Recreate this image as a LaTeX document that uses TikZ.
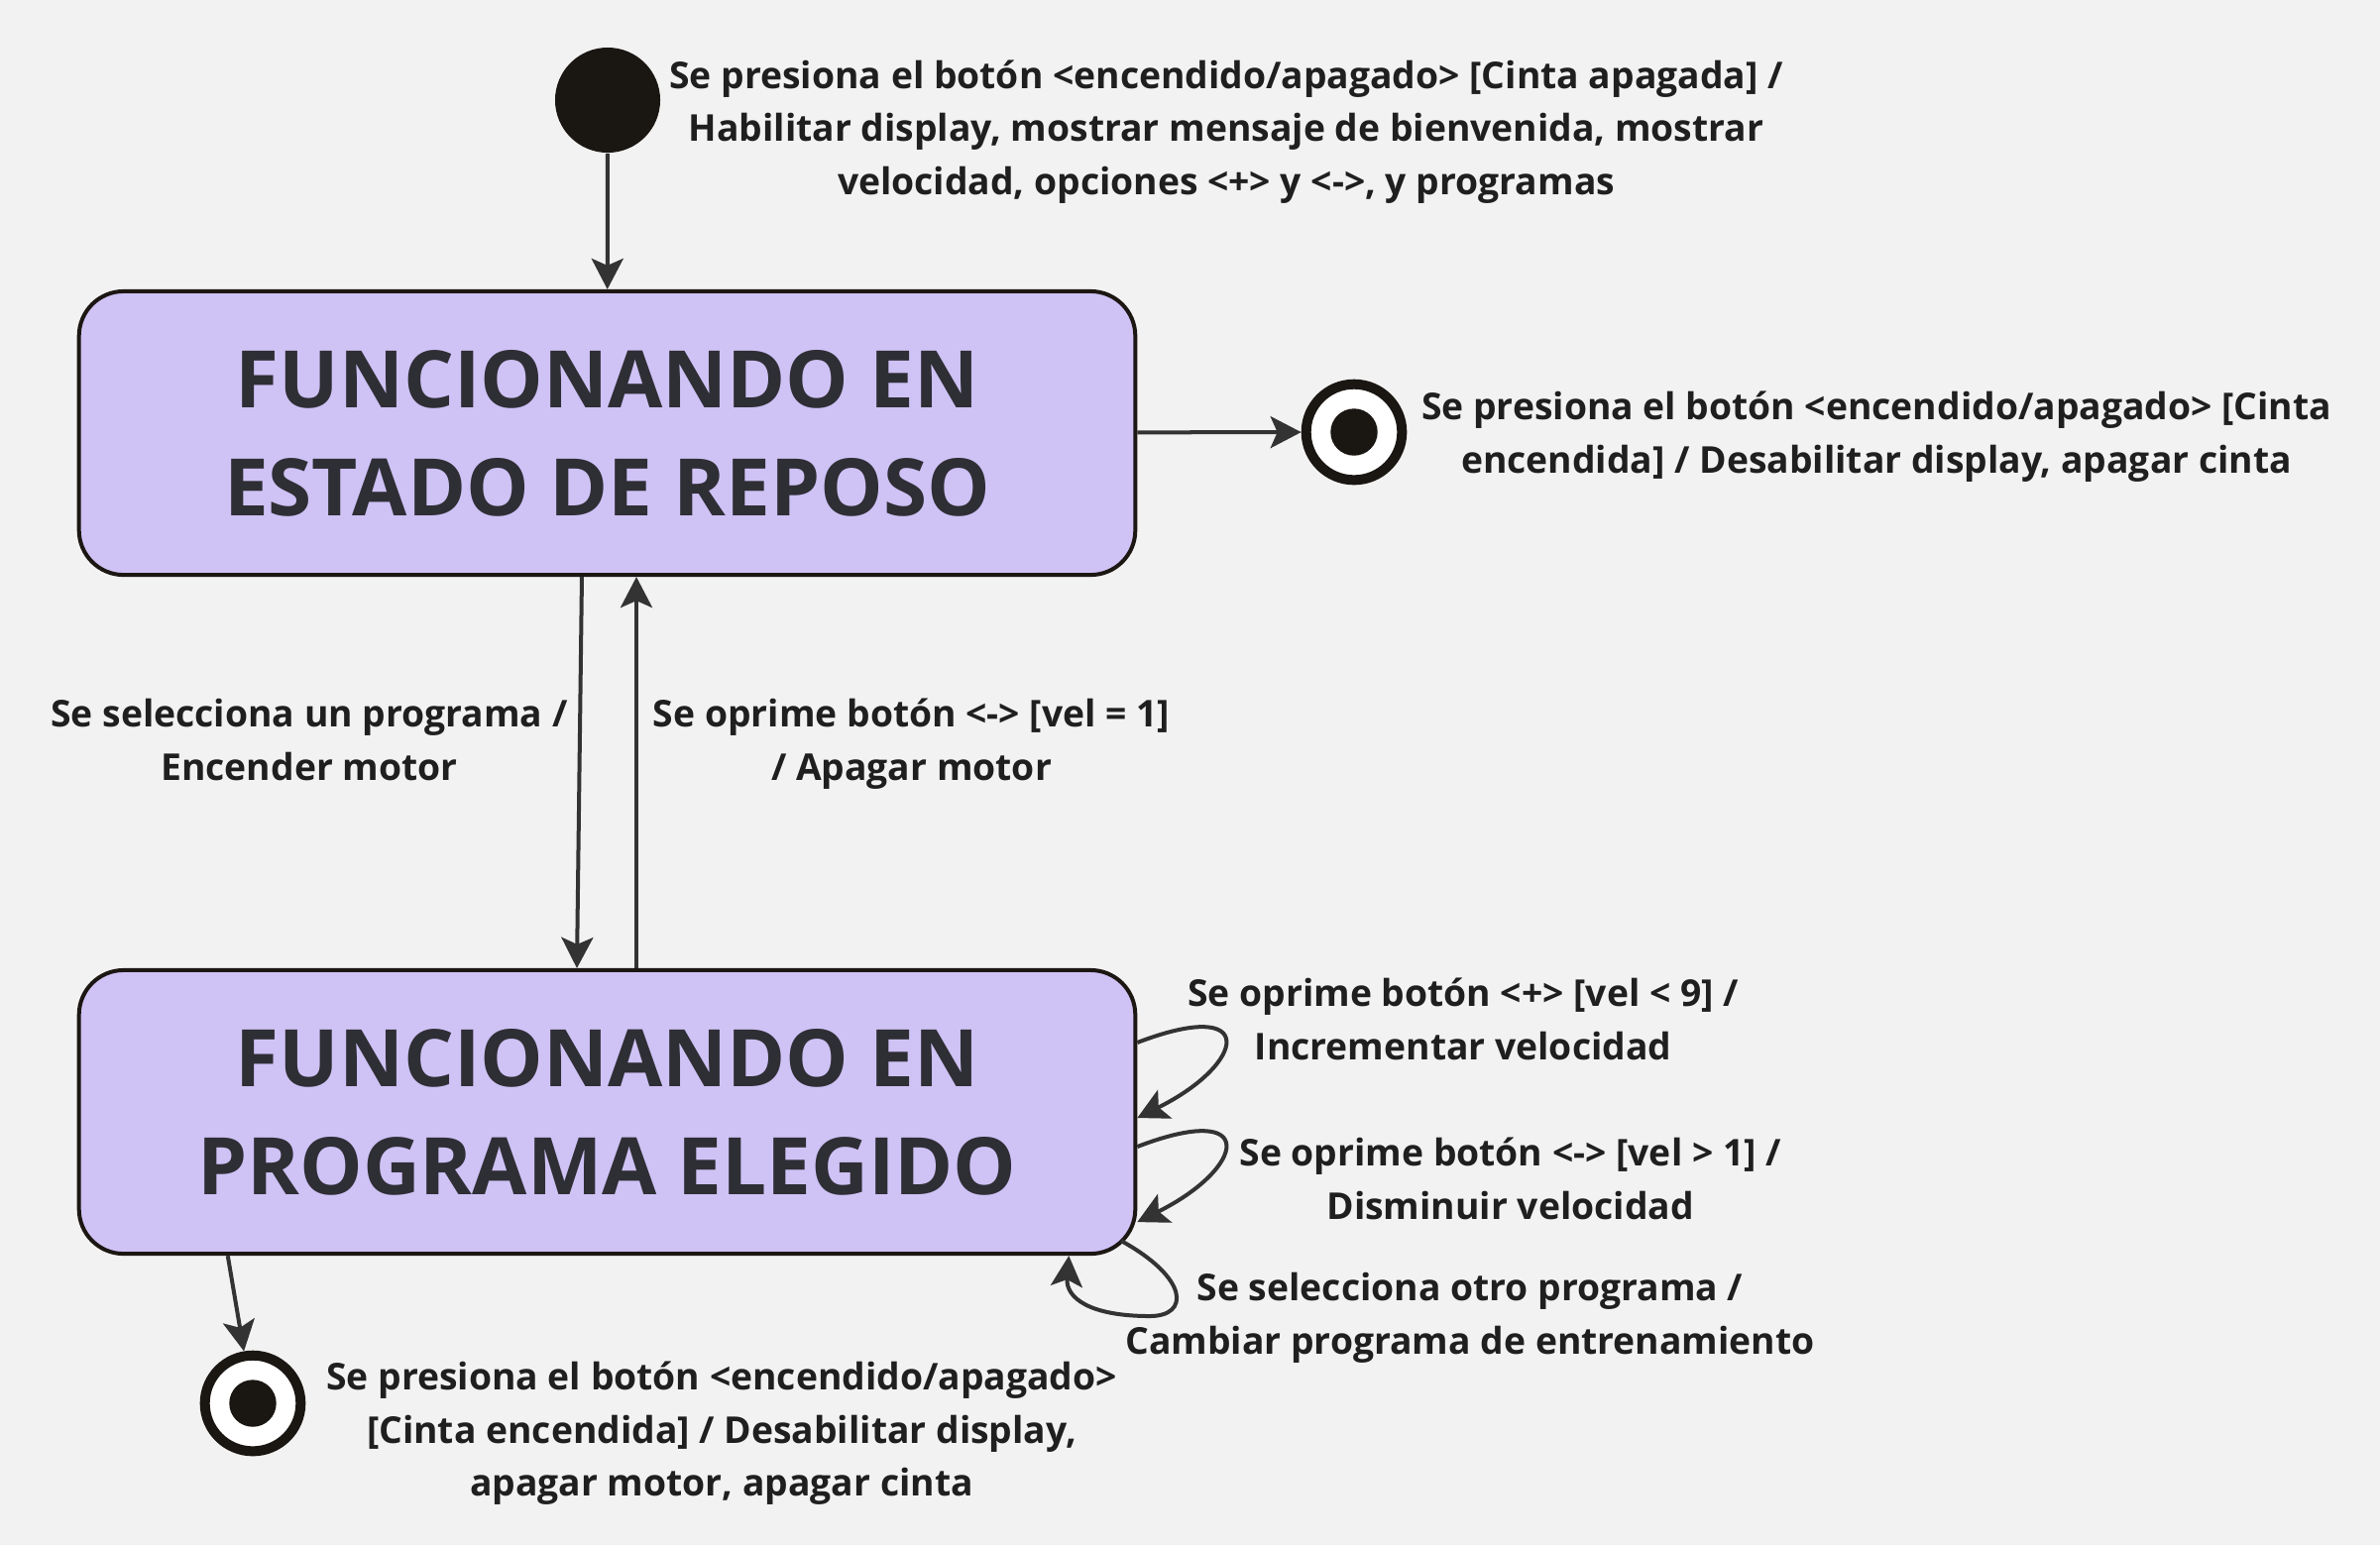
\documentclass[tikz,border=0pt]{standalone}
\usepackage{fontspec}
\setmainfont{Open Sans}
\usetikzlibrary{arrows.meta,calc}
\definecolor{bg}{HTML}{F2F2F2}
\definecolor{boxfill}{HTML}{CFC2F5}
\definecolor{boxline}{HTML}{1C1713}
\definecolor{titletext}{HTML}{2E2E35}
\definecolor{lbltext}{HTML}{1F1F1F}
\definecolor{arrcol}{HTML}{333333}
\definecolor{dotcol}{HTML}{1A1612}
\newcommand{\titlefnt}{\fontsize{22.76pt}{31pt}\selectfont\bfseries}
\newcommand{\lblfnt}{\fontsize{10.6pt}{15.25pt}\selectfont\bfseries}
\newcommand{\ls}{\rule[-0.4em]{0pt}{1.4em}}
\begin{document}
\begin{tikzpicture}[x=0.01cm,y=-0.01cm,
  statebox/.style={draw=boxline, line width=0.04cm, fill=boxfill, rounded corners=0.45cm,
    minimum width=10.65cm, minimum height=2.86cm, align=center, font=\titlefnt,
    text=titletext, inner sep=0pt},
  lbl/.style={align=center, font=\lblfnt, text=lbltext, inner sep=0pt},
  arr/.style={draw=arrcol, line width=0.04cm,
    -{Stealth[length=0.31cm,width=0.32cm,inset=0.07cm]}},
  initst/.style={circle, fill=dotcol, minimum size=1.06cm, inner sep=0pt},
  finalst/.style={circle, draw=dotcol, line width=0.1cm, fill=white,
    minimum size=0.966cm, inner sep=0pt,
    path picture={\fill[dotcol] (path picture bounding box.center) circle (0.237cm);}}
]
\fill[bg] (0,0) rectangle (2401,1559);
\useasboundingbox (0,0) rectangle (2401,1559);

% states
\node[statebox] (s1) at (612.5,437) {FUNCIONANDO EN\\ESTADO DE REPOSO};
\node[statebox] (s2) at (612.5,1122) {FUNCIONANDO EN\\PROGRAMA ELEGIDO};

% pseudo states
\node[initst] (init) at (613,101) {};
\node[finalst] (f1) at (1366,436) {};
\node[finalst] (f2) at (255,1416) {};

% labels
\node[lbl] (l0) at (1237,131.5) {\ls Se presiona el botón <encendido/apagado> [Cinta apagada] /\\\ls Habilitar display, mostrar mensaje de bienvenida, mostrar\\\ls velocidad, opciones <+> y <->, y programas};
\node[lbl] (l1) at (1893,439) {\ls Se presiona el botón <encendido/apagado> [Cinta\\\ls encendida] / Desabilitar display, apagar cinta};
\node[lbl] (l2) at (312,749.5) {\ls Se selecciona un programa /\\\ls Encender motor};
\node[lbl] (l3) at (919.5,749.5) {\ls Se oprime botón <-> [vel = 1]\\\ls / Apagar motor};
\node[lbl] (l4) at (1476,1031.5) {\ls Se oprime botón <+> [vel < 9] /\\\ls Incrementar velocidad};
\node[lbl] (l5) at (1523.6,1192.2) {\ls Se oprime botón <-> [vel > 1] /\\\ls Disminuir velocidad};
\node[lbl] (l6) at (1483,1328.5) {\ls Se selecciona otro programa /\\\ls Cambiar programa de entrenamiento};
\node[lbl] (l7) at (728,1445) {\ls Se presiona el botón <encendido/apagado>\\\ls [Cinta encendida] / Desabilitar display,\\\ls apagar motor, apagar cinta};

% connectors
\draw[arr] (init) -- (s1);
\draw[arr] (s1) -- (f1);
\draw[arr] ([xshift=-0.255cm]s1.south) -- ([xshift=-0.305cm]s2.north);
\draw[arr] ([xshift=0.295cm]s2.north) -- ([xshift=0.295cm]s1.south);
\draw[arr] ([xshift=-3.825cm]s2.south) -- (f2);

% self loops
\draw[arr] ([yshift=0.70cm]s2.east) .. controls (1270,1005) and (1258,1073) .. ([yshift=-0.06cm]s2.east);
\draw[arr] ([yshift=-0.35cm]s2.east) .. controls (1270,1110) and (1258,1178) .. ([yshift=-1.11cm]s2.east);
\coordinate (c3) at (1131,1252);
\draw[arr] (c3) .. controls (1200,1290) and (1200,1328) .. (1160,1328)
  .. controls (1100,1328) and (1075,1310) .. ([xshift=4.655cm]s2.south);
\end{tikzpicture}
\end{document}
